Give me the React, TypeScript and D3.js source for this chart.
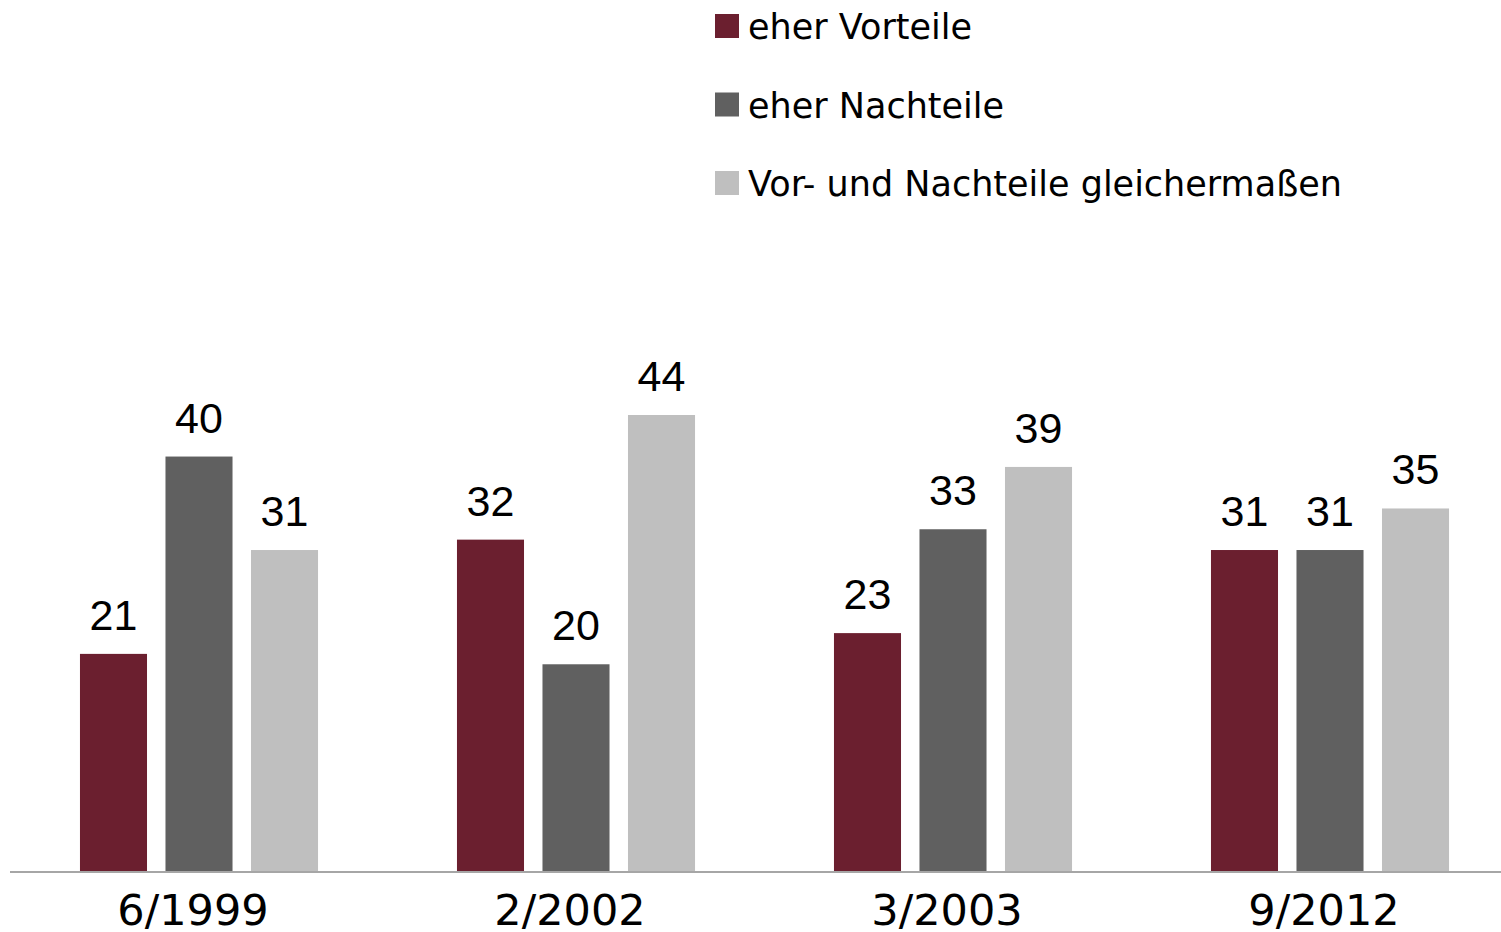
import React from "react";
import * as d3 from "d3";

// survey waves
const categories = ["6/1999", "2/2002", "3/2003", "9/2012"];
const seriesNames = ["eher Vorteile", "eher Nachteile", "Vor- und Nachteile gleichermaßen"];
const vorteile = [21, 32, 23, 31];
const nachteile = [40, 20, 33, 31];
const beides = [31, 44, 39, 35];
const colors = ["#6B1F2F", "#606060", "#BFBFBF"];

const width = 1501;
const height = 932;
const baseline = 872;

const sansFont = "'DejaVu Sans', Verdana, sans-serif";
const valueFont = "'Liberation Sans', Arial, sans-serif";

export default function App() {
  const values = [vorteile, nachteile, beides];

  const x0 = d3.scaleBand<string>().domain(categories).range([10.5, 1518.5]);
  const x1 = d3
    .scaleBand<string>()
    .domain(seriesNames)
    .range([0, x0.bandwidth()])
    .paddingInner(0.216)
    .paddingOuter(0.8125);
  const y = d3.scaleLinear().domain([0, 44]).range([baseline, 415]);

  return (
    <svg
      width={width}
      height={height}
      style={{ position: "absolute", left: 0, top: 0, background: "#fff" }}
    >
      {/* legend */}
      <g>
        {seriesNames.map((name, i) => (
          <g key={name} transform={`translate(715, ${14 + i * 78.5})`}>
            <rect width={24} height={24} fill={colors[i]} />
            <text x={33} y={25} fontFamily={sansFont} fontSize={35} fill="#000">
              {name}
            </text>
          </g>
        ))}
      </g>

      {/* bars + value labels */}
      {categories.map((cat, ci) => (
        <g key={cat} transform={`translate(${x0(cat)}, 0)`}>
          {seriesNames.map((s, si) => {
            const v = values[si][ci];
            const bx = x1(s)!;
            return (
              <g key={s}>
                <rect
                  x={bx}
                  y={y(v)}
                  width={x1.bandwidth()}
                  height={baseline - y(v)}
                  fill={colors[si]}
                />
                <text
                  x={bx + x1.bandwidth() / 2}
                  y={y(v) - 24}
                  textAnchor="middle"
                  fontFamily={valueFont}
                  fontSize={43}
                  fill="#000"
                >
                  {v}
                </text>
              </g>
            );
          })}
        </g>
      ))}

      {/* axis */}
      <line x1={10} x2={width} y1={baseline} y2={baseline} stroke="#A6A6A6" strokeWidth={2} />
      {categories.map((cat) => (
        <text
          key={cat}
          x={x0(cat)! + x0.bandwidth() / 2 - 6}
          y={925}
          textAnchor="middle"
          fontFamily={sansFont}
          fontSize={43}
          fill="#000"
        >
          {cat}
        </text>
      ))}
    </svg>
  );
}
